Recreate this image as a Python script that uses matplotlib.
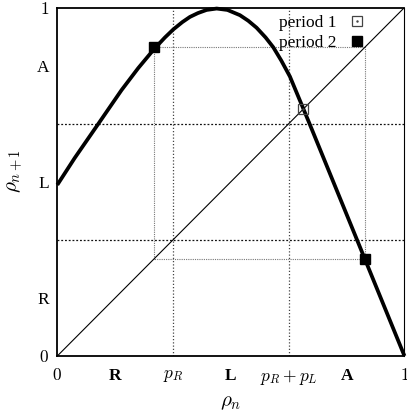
import matplotlib
matplotlib.use("Agg")
import matplotlib.pyplot as plt
from matplotlib.lines import Line2D
from matplotlib.legend_handler import HandlerTuple

plt.rcParams['font.family'] = ['Liberation Serif', 'DejaVu Serif']
plt.rcParams['mathtext.fontset'] = 'cm'

# map curve rho_{n+1} = f(rho_n)
curve_x = [0.000, 0.050, 0.118, 0.185, 0.233, 0.279, 0.310, 0.334, 0.360, 0.382,
           0.405, 0.430, 0.459, 0.490, 0.526, 0.550, 0.574, 0.600, 0.622, 0.645,
           0.670, 0.711, 0.728, 0.870, 0.888, 1.000]
curve_y = [0.491, 0.568, 0.666, 0.763, 0.826, 0.881, 0.914, 0.937, 0.958, 0.973,
           0.984, 0.993, 0.997, 0.993, 0.978, 0.962, 0.942, 0.914, 0.886, 0.848,
           0.802, 0.704, 0.663, 0.317, 0.273, 0.000]

grid_levels = [1/3, 2/3]          # p_R and p_R + p_L
period1 = 0.708                   # fixed point
period2 = [0.279, 0.886]          # period-2 orbit

xtick_pos = [0, 1/6, 1/3, 1/2, 2/3, 5/6, 1]
xtick_lab = ['$0$', 'R', '$p_R$', 'L', '$p_R + p_L$', 'A', '$1$']
ytick_pos = [0, 1/6, 1/2, 5/6, 1]
ytick_lab = ['$0$', 'R', 'L', 'A', '$1$']

fig = plt.figure(figsize=(4.07, 4.17), dpi=100)
ax = fig.add_axes([0.1408, 0.1463, 0.853, 0.8357])

# dotted lines at p_R and p_R + p_L
for g in grid_levels:
    ax.axhline(g, color='#111111', lw=0.9, ls=(0, (1.5, 1.5)), zorder=1)
    ax.axvline(g, color='#444444', lw=0.9, ls=(0, (1.0, 1.6)), zorder=1)

# cobweb rectangle for period-2 orbit
a, b = period2
ax.plot([a, a, b, b, a], [a, b, b, a, a], color='#777777', lw=0.8,
        ls=(0, (1.0, 1.0)), zorder=1)

# diagonal
ax.plot([0, 1], [0, 1], color='black', lw=0.8, zorder=2)

# map curve
ax.plot(curve_x, curve_y, color='black', lw=2.7, zorder=3,
        solid_capstyle='butt', solid_joinstyle='round', clip_on=False)

# period points
ax.plot([period1], [period1], ls='none', marker='s', ms=7.5, mfc='none',
        mec='#444444', mew=0.9, zorder=4)
ax.plot([period1], [period1], ls='none', marker='.', ms=1.5, color='#444444', zorder=4)
ax.plot([a, b], [b, a], ls='none', marker='s', ms=7.5, color='black', zorder=4)

ax.set_xlim(0, 1)
ax.set_ylim(0, 1)

ax.set_xticks(xtick_pos)
ax.set_xticklabels(xtick_lab, fontsize=12.5)
for lab, t in zip(ax.get_xticklabels(), xtick_lab):
    if not t.startswith('$'):
        lab.set_fontweight('bold')
ax.set_yticks(ytick_pos)
ax.set_yticklabels(ytick_lab, fontsize=12.5)
ax.tick_params(length=0, pad=6)
ax.tick_params(axis='x', pad=9)

for s in ['left', 'bottom', 'top']:
    ax.spines[s].set_linewidth(1.3)
ax.spines['right'].set_linewidth(0.8)

ax.set_xlabel(r'$\rho_n$', fontsize=15, labelpad=4)
ax.set_ylabel(r'$\rho_{n+1}$', fontsize=15)
ax.yaxis.set_label_coords(-0.093, 0.53)

# legend
h1 = (Line2D([], [], ls='none', marker='s', ms=7, mfc='none', mec='#444444', mew=0.9),
      Line2D([], [], ls='none', marker='.', ms=1.5, color='#444444'))
h2 = Line2D([], [], ls='none', marker='s', ms=7.5, color='black')
ax.legend([h1, h2], ['period 1', 'period 2'], loc='upper right',
          bbox_to_anchor=(0.909, 1.0), frameon=False,
          markerfirst=False, fontsize=12.5, handlelength=1.0, handletextpad=0.7,
          labelspacing=0.25, borderaxespad=0.0,
          handler_map={tuple: HandlerTuple(ndivide=1)})

fig.savefig('out.png', dpi=100)
